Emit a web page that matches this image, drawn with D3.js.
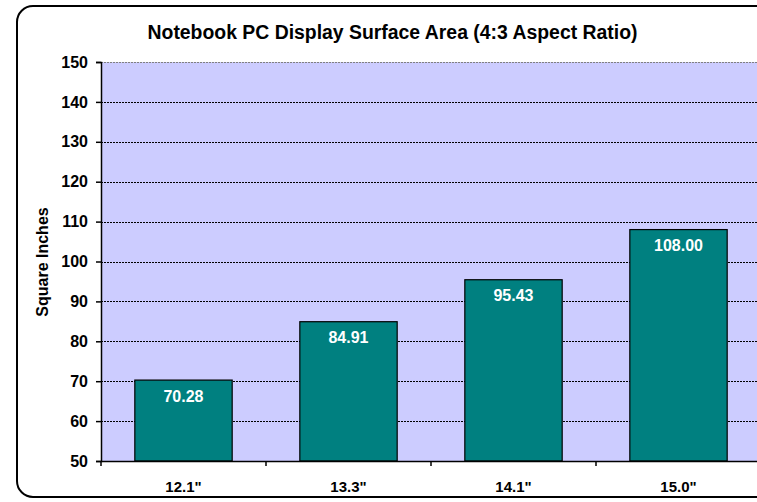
<!DOCTYPE html>
<html><head><meta charset="utf-8">
<script src="https://cdn.jsdelivr.net/npm/d3@7"></script>
<style>body{margin:0;background:#fff;} svg{display:block;}</style>
</head><body>
<svg id="c" width="757" height="502"></svg>
<script>
const categories = ['12.1"', '13.3"', '14.1"', '15.0"'];
const values = [70.28, 84.91, 95.43, 108.00];
const yTicks = [50, 60, 70, 80, 90, 100, 110, 120, 130, 140, 150];
const title = "Notebook PC Display Surface Area (4:3 Aspect Ratio)";
const yTitle = "Square Inches";

const svg = d3.select("#c");
const font = "Liberation Sans, Arial, sans-serif";

// outer border (right edge off-canvas)
svg.append("rect").attr("x", 17).attr("y", 6).attr("width", 800).attr("height", 491)
  .attr("rx", 16).attr("ry", 16).attr("fill", "#fff").attr("stroke", "#000").attr("stroke-width", 2);

const L = 101, T = 62, B = 461, R = 761;
const x = d3.scaleBand().domain(categories).range([L, R]).paddingInner(0.41).paddingOuter(0.205);
const y = d3.scaleLinear().domain([50, 150]).range([B, T]);

svg.append("rect").attr("x", L).attr("y", T).attr("width", R - L).attr("height", B - T).attr("fill", "#CCCCFF");

// gridlines
svg.append("g").selectAll("line").data(yTicks.filter(d => d > 50)).join("line")
  .attr("x1", L).attr("x2", R).attr("y1", d => Math.round(y(d)) + 0.5).attr("y2", d => Math.round(y(d)) + 0.5)
  .attr("stroke", d => d === 150 ? "#808080" : "#000").attr("stroke-width", 1).attr("stroke-dasharray", "2,1");

// bars
svg.append("g").selectAll("rect").data(values).join("rect")
  .attr("x", (d, i) => x(categories[i])).attr("width", x.bandwidth())
  .attr("y", d => y(d)).attr("height", d => B - y(d))
  .attr("fill", "#008080").attr("stroke", "#000").attr("stroke-width", 1.2);

// value labels
svg.append("g").selectAll("text").data(values).join("text")
  .attr("x", (d, i) => x(categories[i]) + x.bandwidth() / 2).attr("y", d => y(d) + 21.5)
  .attr("text-anchor", "middle").attr("fill", "#fff").attr("font-family", font)
  .attr("font-weight", "bold").attr("font-size", 16).text(d => d.toFixed(2));

// y axis
const ya = svg.append("g").attr("transform", `translate(${L},0)`)
  .call(d3.axisLeft(y).tickValues(yTicks).tickSize(5).tickPadding(8));
ya.select(".domain").attr("stroke", "#000").attr("stroke-width", 1.5);
ya.selectAll(".tick line").attr("stroke", "#000").attr("stroke-width", 1.5);
ya.selectAll("text").attr("font-family", font).attr("font-weight", "bold").attr("font-size", 16).attr("fill", "#000");

// x axis
const xa = svg.append("g").attr("transform", `translate(0,${B})`)
  .call(d3.axisBottom(x).tickSize(0).tickPadding(20));
xa.select(".domain").attr("stroke", "#000").attr("stroke-width", 1.5);
xa.selectAll("text").attr("font-family", font).attr("font-weight", "bold").attr("font-size", 15).attr("fill", "#000");
// category separator ticks
svg.append("g").selectAll("line").data(d3.range(categories.length + 1)).join("line")
  .attr("x1", i => L + i * (R - L) / categories.length).attr("x2", i => L + i * (R - L) / categories.length)
  .attr("y1", B).attr("y2", B + 5).attr("stroke", "#000").attr("stroke-width", 1.5);

// titles
svg.append("text").attr("x", 392.5).attr("y", 39).attr("text-anchor", "middle")
  .attr("font-family", font).attr("font-weight", "bold").attr("font-size", 19.4).text(title);
svg.append("text").attr("transform", "translate(48,262) rotate(-90)").attr("text-anchor", "middle")
  .attr("font-family", font).attr("font-weight", "bold").attr("font-size", 16).text(yTitle);
</script>
</body></html>
